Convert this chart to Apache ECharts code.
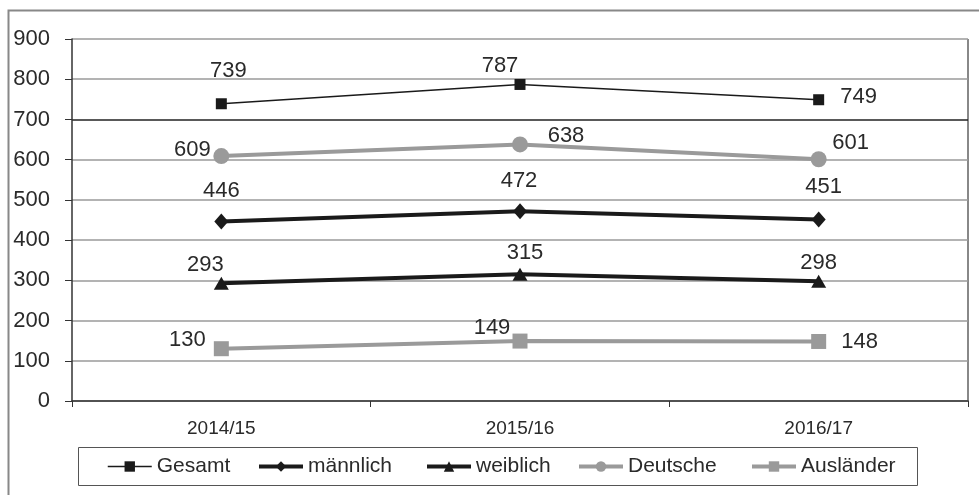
<!DOCTYPE html>
<html>
<head>
<meta charset="utf-8">
<script src="https://cdn.jsdelivr.net/npm/echarts@6/dist/echarts.min.js"></script>
<style>
  html, body { margin: 0; padding: 0; background: #fff; }
  #chart { width: 979px; height: 495px; }
</style>
</head>
<body>
<div id="chart"></div>
<script>
// Schuljahre
const categories = ['2014/15', '2015/16', '2016/17'];

// Reihen und Werte je Gruppe
const seriesNames = ['Gesamt', 'männlich', 'weiblich', 'Deutsche', 'Ausländer'];
const gesamt = [739, 787, 749];
const maennlich = [446, 472, 451];
const weiblich = [293, 315, 298];
const deutsche = [609, 638, 601];
const auslaender = [130, 149, 148];

const yTicks = [0, 100, 200, 300, 400, 500, 600, 700, 800, 900];

const FONT = '"Liberation Sans", Arial, sans-serif';
const TEXT = '#2a2a2a';
const DARK = '#1a1a1a';
const GREY = '#9a9a9a';

// Beschriftung je Punkt, zentriert auf dem Symbol und dann verschoben
function labelled(values, offsets) {
  return values.map((v, i) => ({
    value: v,
    label: { show: true, position: 'inside', offset: offsets[i] }
  }));
}

const labelStyle = {
  fontSize: 22, color: TEXT, fontFamily: FONT,
  align: 'center', verticalAlign: 'middle'
};

// Legende: ein Eintrag je Reihe, in einem gemeinsamen Rahmen
const legendLeft = [107, 257, 425, 577, 750];
const legendLineWidth = [1.5, 4, 4, 4, 4];
const legends = seriesNames.map((name, i) => ({
  left: legendLeft[i],
  top: 456,
  padding: 0,
  itemWidth: 44,
  itemHeight: 13,
  textStyle: { fontSize: 21, color: TEXT, fontFamily: FONT },
  data: [{ name: name, lineStyle: { width: legendLineWidth[i] } }]
}));

const chart = echarts.init(document.getElementById('chart'), null, { renderer: 'canvas' });

chart.setOption({
  animation: false,
  backgroundColor: '#fff',
  graphic: [
    {
      type: 'polyline',
      shape: { points: [[8.5, 495], [8.5, 10.5], [979, 10.5]] },
      style: { stroke: '#888', lineWidth: 2, fill: null },
      silent: true
    },
    {
      type: 'line',
      shape: { x1: 968, y1: 39, x2: 968, y2: 401 },
      style: { stroke: '#888', lineWidth: 2 },
      silent: true
    },
    {
      type: 'rect',
      shape: { x: 78.5, y: 447.5, width: 839, height: 38 },
      style: { stroke: '#555', lineWidth: 1, fill: null },
      silent: true
    }
  ],
  grid: { left: 72, right: 11, top: 39, bottom: 94 },
  legend: legends,
  xAxis: {
    type: 'category',
    data: categories,
    boundaryGap: true,
    axisLine: { lineStyle: { color: '#333', width: 1.5 } },
    axisTick: { show: true, length: 6, lineStyle: { color: '#333' } },
    axisLabel: { fontSize: 19, color: TEXT, fontFamily: FONT, margin: 18 }
  },
  yAxis: {
    type: 'value',
    min: yTicks[0],
    max: yTicks[yTicks.length - 1],
    interval: 100,
    axisLine: { show: true, lineStyle: { color: '#333', width: 1.5 } },
    axisTick: { show: true, length: 7, lineStyle: { color: '#333' } },
    axisLabel: { fontSize: 22, color: TEXT, fontFamily: FONT, margin: 22 },
    splitLine: {
      lineStyle: {
        color: [GREY, GREY, GREY, GREY, GREY, GREY, GREY, '#222', GREY, GREY],
        width: 1.5
      }
    }
  },
  series: [
    {
      name: seriesNames[0],
      type: 'line',
      z: 5,
      symbol: 'rect',
      symbolSize: 11,
      itemStyle: { color: DARK },
      lineStyle: { color: DARK, width: 1.5 },
      label: labelStyle,
      data: labelled(gesamt, [[7, -33], [-20, -19], [40, -3]])
    },
    {
      name: seriesNames[1],
      type: 'line',
      z: 4,
      symbol: 'diamond',
      symbolSize: [14, 16],
      itemStyle: { color: DARK },
      lineStyle: { color: DARK, width: 4 },
      label: labelStyle,
      data: labelled(maennlich, [[0, -31], [-1, -30], [5, -33]])
    },
    {
      name: seriesNames[2],
      type: 'line',
      z: 4,
      symbol: 'triangle',
      symbolSize: [15, 13],
      itemStyle: { color: DARK },
      lineStyle: { color: DARK, width: 4 },
      label: labelStyle,
      data: labelled(weiblich, [[-16, -18], [5, -21], [0, -18]])
    },
    {
      name: seriesNames[3],
      type: 'line',
      z: 3,
      symbol: 'circle',
      symbolSize: 16,
      itemStyle: { color: GREY },
      lineStyle: { color: GREY, width: 4 },
      label: labelStyle,
      data: labelled(deutsche, [[-29, -6], [46, -8], [32, -16]])
    },
    {
      name: seriesNames[4],
      type: 'line',
      z: 3,
      symbol: 'rect',
      symbolSize: 15,
      itemStyle: { color: GREY },
      lineStyle: { color: GREY, width: 4 },
      label: labelStyle,
      data: labelled(auslaender, [[-34, -9], [-28, -13], [41, 0]])
    }
  ]
});
</script>
</body>
</html>
